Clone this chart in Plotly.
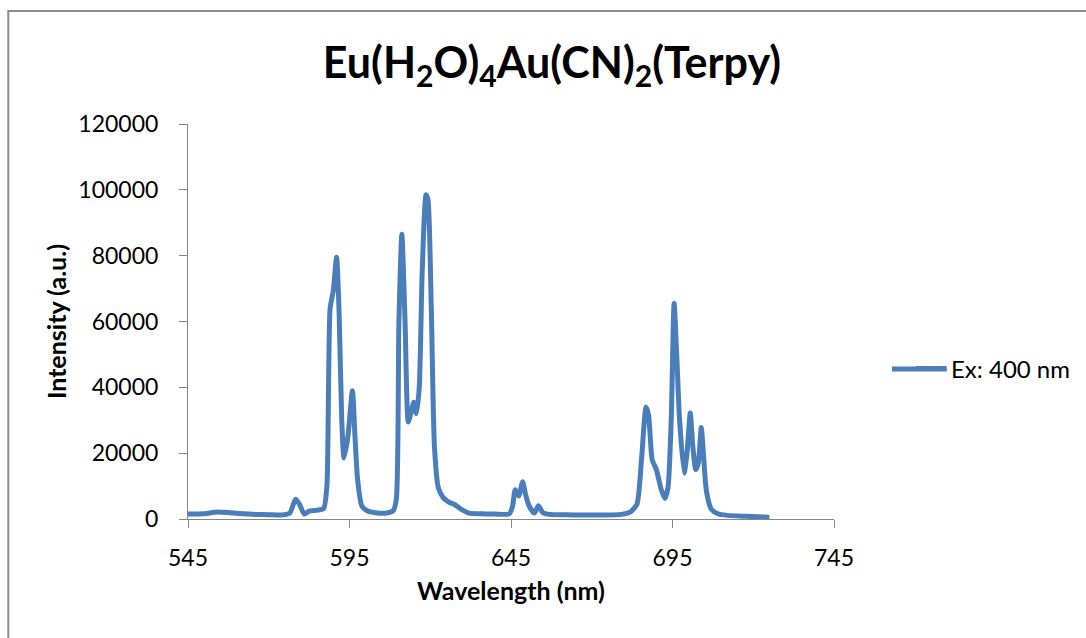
import plotly.graph_objects as go

wavelength_nm = [545, 550, 554, 558, 562, 566, 570, 574, 576.5, 578.3, 579.5, 581, 582.5, 585, 587,
                 588, 589, 590, 591, 591.8, 592.6, 593.3, 594.5, 595.9, 596.7, 597.5, 598.8, 600.5,
                 603, 606.5, 608.5, 609.5, 610.3, 611.2, 612.2, 613.2, 614.2, 614.9, 615.7, 616.6,
                 617.5, 618.7, 619.3, 620.3, 621.3, 622.5, 624, 625.5, 627.5, 629.5, 632, 636, 640,
                 644.5, 645.5, 646.3, 647.4, 648.6, 649.5, 650.5, 652.2, 653.5, 654.8, 657, 662, 668,
                 674, 679, 682, 684, 685.4, 686.8, 687.6, 688.7, 690, 691.5, 692.6, 693.6, 694.6,
                 695.5, 696.3, 697.2, 698.6, 699.5, 700.5, 701.3, 702.2, 703, 703.9, 704.7, 705.5,
                 707, 709, 712, 718, 725]
intensity = [1500, 1600, 2100, 1900, 1600, 1400, 1300, 1200, 1800, 6000, 4500, 1500, 2400, 2700, 3200,
             10000, 64000, 69500, 79500, 62000, 30000, 18500, 25000, 39000, 25000, 12000, 4000, 2500,
             1900, 1800, 2500, 6000, 60000, 86500, 60000, 29500, 33000, 35500, 32000, 40000,
             75000, 98500, 97000, 65000, 22000, 9500, 6500, 5300, 4400, 3000, 1800, 1600, 1500,
             1600, 4000, 8900, 7000, 11300, 7500, 4200, 1800, 4000, 2000, 1400, 1300, 1200,
             1200, 1400, 2200, 4500, 18000, 34000, 31500, 18000, 15000, 9000, 6200, 9500, 30000,
             65500, 50000, 30000, 14000, 20000, 32200, 22000, 15000, 17000, 27800, 18000, 8500,
             3000, 1600, 1100, 800, 500]

series_name = "Ex: 400 nm"
x_ticks = [545, 595, 645, 695, 745]
y_ticks = [0, 20000, 40000, 60000, 80000, 100000, 120000]

FONT = "Lato, Open Sans, sans-serif"
LINE_COLOR = "#4a7ebb"
AXIS_COLOR = "#868686"

fig = go.Figure()
fig.add_trace(go.Scatter(
    x=wavelength_nm, y=intensity, mode="lines", name=series_name,
    line=dict(color=LINE_COLOR, width=5, shape="spline", smoothing=0.6),
))

W, H = 1086, 638
L, R, T, B = 188, 835, 124, 519


def px_x(p):
    return (p - L) / (R - L)


def px_y(p):
    return (B - p) / (B - T)


fig.update_layout(
    width=W, height=H,
    margin=dict(l=L, r=W - R, t=T, b=H - B, pad=0),
    paper_bgcolor="white", plot_bgcolor="white",
    font=dict(family=FONT, color="#000000", size=23),
    title=dict(
        text="<b>Eu(H<sub>2</sub>O)<sub>4</sub>Au(CN)<sub>2</sub>(Terpy)</b>",
        x=px_x(552.5), xref="paper", xanchor="center",
        y=1 - 63 / H, yref="container", yanchor="middle",
        font=dict(family=FONT, size=43, color="#000000"),
    ),
    showlegend=True,
    legend=dict(x=px_x(911), y=px_y(369), xanchor="left", yanchor="middle",
                font=dict(family=FONT, size=24), bgcolor="rgba(0,0,0,0)",
                borderwidth=0),
    xaxis=dict(
        range=[545, 745], tickmode="array", tickvals=x_ticks, ticktext=[str(v) for v in x_ticks],
        showgrid=False, zeroline=False, showline=True, linecolor=AXIS_COLOR, linewidth=1,
        ticks="outside", ticklen=8, tickcolor=AXIS_COLOR, ticklabelstandoff=10,
        tickfont=dict(family=FONT, size=23),
        title=dict(text="<b>Wavelength (nm)</b>", font=dict(family=FONT, size=25), standoff=12),
    ),
    yaxis=dict(
        range=[0, 120000], tickmode="array", tickvals=y_ticks, ticktext=[str(v) for v in y_ticks],
        showgrid=False, zeroline=False, showline=True, linecolor=AXIS_COLOR, linewidth=1,
        ticks="outside", ticklen=8, tickcolor=AXIS_COLOR, ticklabelstandoff=16,
        tickfont=dict(family=FONT, size=23),
        title=dict(text="<b>Intensity (a.u.)</b>", font=dict(family=FONT, size=25), standoff=4),
    ),
    shapes=[
        dict(type="rect", xref="paper", yref="paper",
             x0=px_x(8), x1=px_x(W + 20), y0=px_y(H + 20), y1=px_y(11),
             line=dict(color="#8c8c8c", width=2), fillcolor="rgba(0,0,0,0)", layer="below"),
        dict(type="line", xref="paper", yref="paper",
             x0=px_x(893), x1=px_x(948), y0=px_y(369), y1=px_y(369),
             line=dict(color=LINE_COLOR, width=5)),
    ],
)

fig.write_html("out.html", config={"displayModeBar": False},
               post_script="document.body.style.margin='0';")
